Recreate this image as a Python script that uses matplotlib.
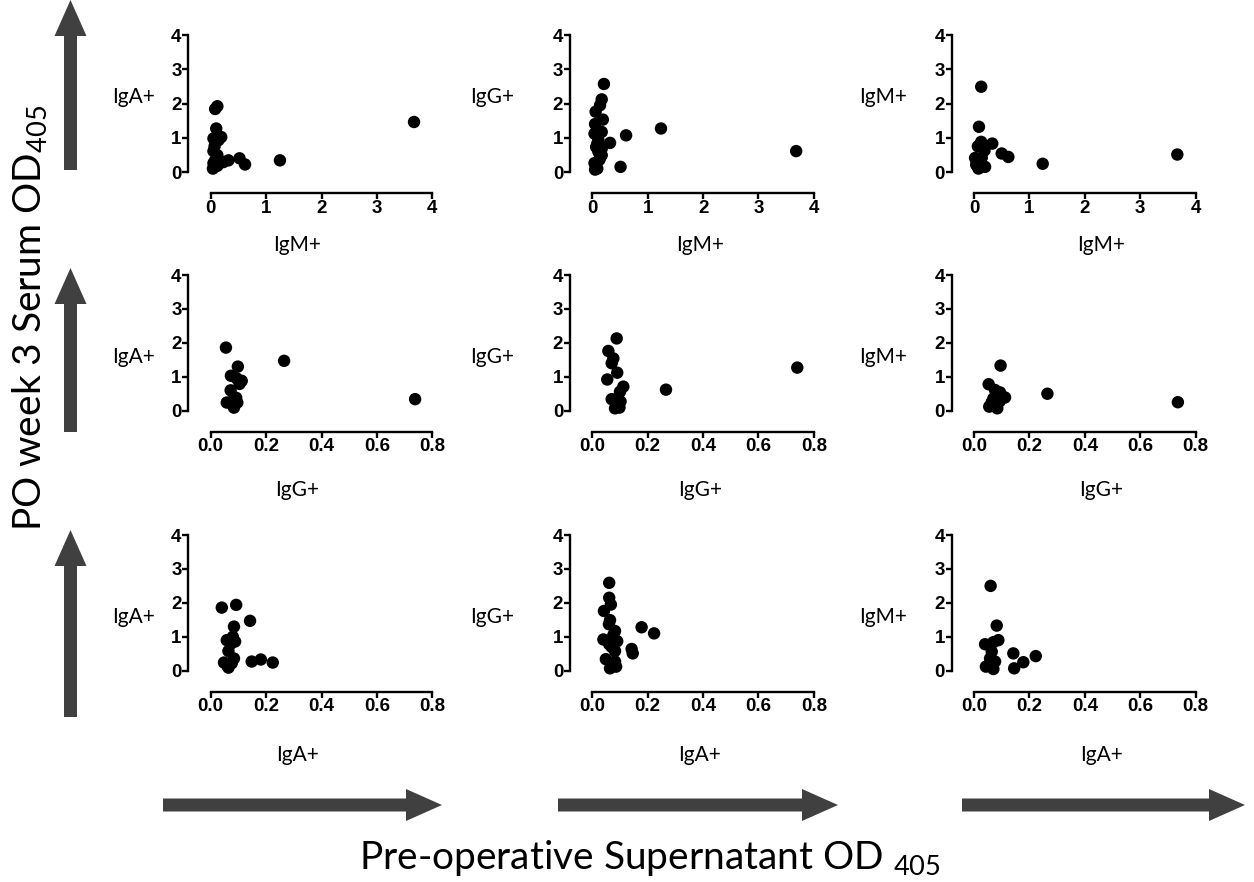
import matplotlib
matplotlib.use('Agg')
import matplotlib.pyplot as plt
from matplotlib.patches import FancyArrow

plt.rcParams['mathtext.default'] = 'regular'

# ---------------- data ----------------
# Row 1: x = IgM+ supernatant
r1c1_x = [0.12, 0.08, 0.10, 0.19, 0.05, 0.14, 0.07, 0.05, 0.12, 0.08, 0.20, 0.32, 0.52, 0.62, 1.25, 3.67, 0.04, 0.12, 0.05, 0.23]
r1c1_y = [1.92, 1.84, 1.27, 1.02, 0.98, 0.93, 0.75, 0.61, 0.49, 0.34, 0.29, 0.34, 0.40, 0.22, 0.34, 1.46, 0.10, 0.18, 0.26, 0.29]
r1c2_x = [0.21, 0.17, 0.14, 0.06, 0.19, 0.05, 0.17, 0.04, 0.61, 1.24, 0.32, 0.11, 0.07, 0.17, 0.11, 0.17, 0.13, 0.04, 0.05, 0.51, 3.68, 0.09, 0.09]
r1c2_y = [2.57, 2.12, 1.95, 1.76, 1.53, 1.40, 1.17, 1.12, 1.07, 1.27, 0.85, 0.93, 0.73, 0.68, 0.59, 0.49, 0.36, 0.26, 0.07, 0.15, 0.61, 0.10, 0.83]
r1c3_x = [0.13, 0.09, 0.13, 0.33, 0.07, 0.19, 0.50, 0.62, 1.24, 3.67, 0.02, 0.05, 0.11, 0.20, 0.08, 0.14, 0.04]
r1c3_y = [2.49, 1.32, 0.88, 0.83, 0.75, 0.63, 0.54, 0.44, 0.24, 0.51, 0.41, 0.29, 0.17, 0.15, 0.10, 0.42, 0.21]

# Row 2: x = IgG+ supernatant
r2c1_x = [0.055, 0.265, 0.738, 0.098, 0.073, 0.094, 0.112, 0.104, 0.072, 0.092, 0.058, 0.096, 0.084, 0.076]
r2c1_y = [1.86, 1.47, 0.34, 1.30, 1.03, 0.95, 0.88, 0.79, 0.60, 0.38, 0.24, 0.24, 0.09, 0.27]
r2c2_x = [0.088, 0.058, 0.076, 0.070, 0.090, 0.054, 0.112, 0.100, 0.266, 0.740, 0.070, 0.102, 0.082, 0.098]
r2c2_y = [2.13, 1.76, 1.54, 1.40, 1.12, 0.92, 0.71, 0.56, 0.62, 1.27, 0.34, 0.27, 0.07, 0.09]
r2c3_x = [0.096, 0.053, 0.265, 0.736, 0.076, 0.094, 0.112, 0.070, 0.055, 0.084, 0.064, 0.092]
r2c3_y = [1.33, 0.78, 0.50, 0.25, 0.61, 0.54, 0.39, 0.36, 0.12, 0.07, 0.25, 0.27]

# Row 3: x = IgA+ supernatant
r3c1_x = [0.040, 0.092, 0.142, 0.084, 0.058, 0.080, 0.072, 0.064, 0.084, 0.148, 0.181, 0.224, 0.048, 0.064, 0.076, 0.088, 0.060]
r3c1_y = [1.86, 1.94, 1.47, 1.30, 0.90, 1.00, 0.79, 0.58, 0.36, 0.27, 0.33, 0.24, 0.24, 0.09, 0.22, 0.86, 0.15]
r3c2_x = [0.061, 0.061, 0.067, 0.042, 0.064, 0.060, 0.082, 0.178, 0.223, 0.040, 0.076, 0.090, 0.061, 0.082, 0.142, 0.146, 0.049, 0.082, 0.064, 0.086, 0.070]
r3c2_y = [2.59, 2.15, 1.95, 1.76, 1.49, 1.37, 1.17, 1.28, 1.10, 0.92, 1.05, 0.87, 0.78, 0.58, 0.64, 0.51, 0.34, 0.27, 0.07, 0.12, 0.70]
r3c3_x = [0.060, 0.082, 0.088, 0.040, 0.070, 0.064, 0.142, 0.223, 0.178, 0.145, 0.058, 0.043, 0.070, 0.076]
r3c3_y = [2.50, 1.33, 0.90, 0.78, 0.84, 0.56, 0.51, 0.43, 0.25, 0.07, 0.36, 0.12, 0.05, 0.27]

panel_x = [[r1c1_x, r1c2_x, r1c3_x], [r2c1_x, r2c2_x, r2c3_x], [r3c1_x, r3c2_x, r3c3_x]]
panel_y = [[r1c1_y, r1c2_y, r1c3_y], [r2c1_y, r2c2_y, r2c3_y], [r3c1_y, r3c2_y, r3c3_y]]

row_xlabels = ['IgM+', 'IgG+', 'IgA+']
col_ylabels = ['IgA+', 'IgG+', 'IgM+']
row_xticks = [[0, 1, 2, 3, 4], [0.0, 0.2, 0.4, 0.6, 0.8], [0.0, 0.2, 0.4, 0.6, 0.8]]
row_xticklabels = [['0', '1', '2', '3', '4'],
                   ['0.0', '0.2', '0.4', '0.6', '0.8'],
                   ['0.0', '0.2', '0.4', '0.6', '0.8']]
yticks = [0, 1, 2, 3, 4]
ytick_labels = ['0', '1', '2', '3', '4']

# ---------------- layout ----------------
W, H = 1254, 882
fig = plt.figure(figsize=(W / 100, H / 100), dpi=100)

col_x0 = [210.7, 592.3, 974.0]
panel_w = 221.6
row_top = [35.0, 275.0, 535.0]
row_bot = [172.0, 410.7, 670.7]

ylab_x = [133, 492, 883]
ylab_y = [97, 357, 617]
xlab_x = [297, 700, 1101]
xlab_y = [245, 490, 755]

tick_font = {'family': 'Liberation Sans', 'weight': 'bold', 'size': 13.5}
lab_font = dict(family='Lato', size=15)

for r in range(3):
    for c in range(3):
        left = col_x0[c] / W
        bottom = 1 - row_bot[r] / H
        height = (row_bot[r] - row_top[r]) / H
        ax = fig.add_axes([left, bottom, panel_w / W, height])
        xmax = row_xticks[r][-1]
        ax.set_xlim(0, xmax)
        ax.set_ylim(0, 4)
        ax.scatter(panel_x[r][c], panel_y[r][c], s=80, c='black',
                   edgecolors='none', clip_on=False, zorder=3)
        for s in ['top', 'right']:
            ax.spines[s].set_visible(False)
        ax.spines['left'].set_position(('outward', 16))
        ax.spines['bottom'].set_position(('outward', 15))
        ax.spines['left'].set_bounds(0, 4)
        ax.spines['bottom'].set_bounds(0, xmax)
        for s in ['left', 'bottom']:
            ax.spines[s].set_linewidth(1.7)
        ax.set_xticks(row_xticks[r])
        ax.set_xticklabels(row_xticklabels[r], fontdict=tick_font)
        ax.set_yticks(yticks)
        ax.set_yticklabels(ytick_labels, fontdict=tick_font)
        ax.tick_params(direction='out', length=4, width=1.7, pad=1)
        ax.patch.set_visible(False)

        fig.text(ylab_x[c] / W, 1 - ylab_y[r] / H, col_ylabels[c],
                 ha='center', va='center', **lab_font)
        fig.text(xlab_x[c] / W, 1 - xlab_y[r] / H, row_xlabels[r],
                 ha='center', va='center', **lab_font)

# ---------------- decorations: arrows and titles ----------------
ov = fig.add_axes([0, 0, 1, 1], zorder=-1)
ov.set_xlim(0, W)
ov.set_ylim(H, 0)
ov.axis('off')

arrow_kw = dict(width=13, head_width=32, head_length=36,
                length_includes_head=True, color='#404040', lw=0)
for yb, yt in [(170, 0), (432, 268), (717, 530)]:
    ov.add_patch(FancyArrow(70.5, yb, 0, yt - yb, **arrow_kw))
for xl, xr in [(163, 442), (558, 838), (962, 1245)]:
    ov.add_patch(FancyArrow(xl, 805, xr - xl, 0, **arrow_kw))

ov.text(30, 318, 'PO week 3 Serum OD$_{405}$', rotation=90,
        ha='center', va='center', family='Lato', fontsize=28)
ov.text(650, 858, 'Pre-operative Supernatant OD $_{405}$',
        ha='center', va='center', family='Lato', fontsize=28)

fig.savefig('out.png', dpi=100)
